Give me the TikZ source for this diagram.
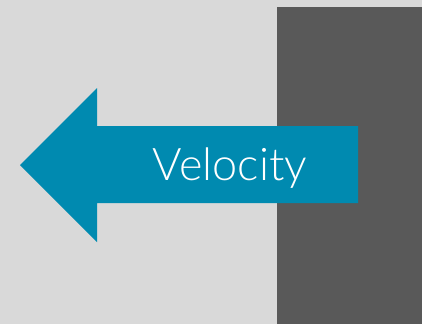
\documentclass[tikz,border=0pt]{standalone}
\usepackage{fontspec}
\setmainfont{Lato}[UprightFont={* Light}]
\definecolor{bggray}{HTML}{D9D9D9}
\definecolor{wallgray}{HTML}{595959}
\definecolor{arrowteal}{HTML}{008AB0}
\begin{document}
\begin{tikzpicture}[
    x=1pt, y=-1pt,
    wall/.style={fill=wallgray, draw=none},
    velarrow/.style={fill=arrowteal, draw=none},
    label/.style={text=white, font=\fontsize{45}{50}\selectfont, inner sep=0pt, anchor=base}
]
    \fill[bggray] (0,0) rectangle (422,324);
    \useasboundingbox (0,0) rectangle (422,324);
    \fill[wall] (277,7) rectangle (422,324);
    \fill[velarrow] (20,165) -- (97,88) -- (97,126) -- (358,126) -- (358,203) -- (97,203) -- (97,242) -- cycle;
    \node[label] (velocity) at (230,180) {Velocity};
\end{tikzpicture}
\end{document}
